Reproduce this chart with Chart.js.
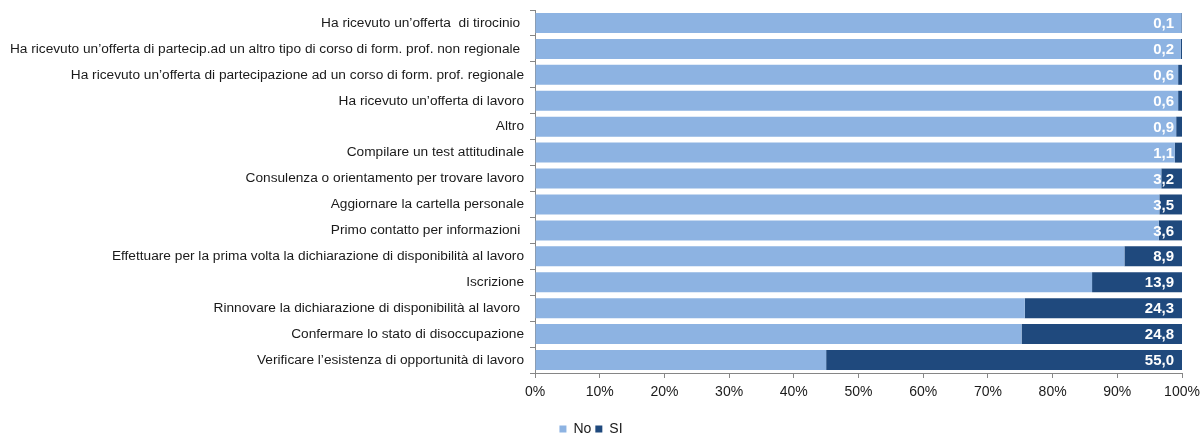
<!DOCTYPE html>
<html>
<head>
<meta charset="utf-8">
<script src="https://cdn.jsdelivr.net/npm/chart.js@4/dist/chart.umd.min.js"></script>
<style>
  html, body { margin: 0; padding: 0; background: #ffffff; }
  #wrap { width: 1200px; height: 434px; position: relative; }
</style>
</head>
<body>
<div id="wrap"><canvas id="c" width="1200" height="434"></canvas></div>
<script>
const categories = [
  "Ha ricevuto un\u2019offerta  di tirocinio ",
  "Ha ricevuto un\u2019offerta di partecip.ad un altro tipo di corso di form. prof. non regionale ",
  "Ha ricevuto un\u2019offerta di partecipazione ad un corso di form. prof. regionale",
  "Ha ricevuto un\u2019offerta di lavoro",
  "Altro",
  "Compilare un test attitudinale",
  "Consulenza o orientamento per trovare lavoro",
  "Aggiornare la cartella personale",
  "Primo contatto per informazioni ",
  "Effettuare per la prima volta la dichiarazione di disponibilit\u00e0 al lavoro",
  "Iscrizione",
  "Rinnovare la dichiarazione di disponibilit\u00e0 al lavoro ",
  "Confermare lo stato di disoccupazione",
  "Verificare l\u2019esistenza di opportunit\u00e0 di lavoro"
];
const siValues = [0.1, 0.2, 0.6, 0.6, 0.9, 1.1, 3.2, 3.5, 3.6, 8.9, 13.9, 24.3, 24.8, 55.0];
const noValues = [99.9, 99.8, 99.4, 99.4, 99.1, 98.9, 96.8, 96.5, 96.4, 91.1, 86.1, 75.7, 75.2, 45.0];
const seriesNames = ["No", "SI"];
const xTicks = [0, 10, 20, 30, 40, 50, 60, 70, 80, 90, 100];

const FONT = "'Liberation Sans Narrow', 'Arial Narrow', 'Liberation Sans', sans-serif";

// Writes the SI share at the right end of each bar
const valueLabels = {
  id: 'valueLabels',
  afterDatasetsDraw(chart) {
    const ctx = chart.ctx;
    const meta = chart.getDatasetMeta(1);
    ctx.save();
    ctx.font = "bold 15px " + FONT;
    ctx.fillStyle = "#ffffff";
    ctx.textAlign = "right";
    ctx.textBaseline = "middle";
    meta.data.forEach((bar, i) => {
      const txt = siValues[i].toFixed(1).replace('.', ',');
      ctx.fillText(txt, bar.x - 8, bar.y + 1);
    });
    ctx.restore();
  }
};

new Chart(document.getElementById('c'), {
  type: 'bar',
  data: {
    labels: categories,
    datasets: [
      { label: seriesNames[0], data: noValues, backgroundColor: '#8db3e2', borderWidth: 0,
        categoryPercentage: 1.0, barPercentage: 0.77 },
      { label: seriesNames[1], data: siValues, backgroundColor: '#1f497d', borderWidth: 0,
        categoryPercentage: 1.0, barPercentage: 0.77 }
    ]
  },
  options: {
    indexAxis: 'y',
    responsive: false,
    animation: false,
    devicePixelRatio: 1,
    layout: { padding: { top: 10, right: 18, left: 0, bottom: -12 } },
    plugins: {
      legend: {
        position: 'bottom',
        labels: {
          font: { family: FONT, size: 14 },
          color: '#1a1a1a',
          boxWidth: 7,
          boxHeight: 7,
          padding: 4
        }
      },
      tooltip: { enabled: false }
    },
    scales: {
      x: {
        stacked: true,
        min: 0,
        max: 100,
        afterBuildTicks(scale) { scale.ticks = xTicks.map(v => ({ value: v })); },
        afterFit(scale) {
          scale.height = 45;
          scale.paddingLeft = 0;
          scale.paddingRight = 0;
        },
        ticks: {
          callback: v => v + '%',
          font: { family: FONT, size: 14 },
          color: '#1a1a1a',
          padding: 6,
          maxRotation: 0
        },
        grid: { drawOnChartArea: false, color: '#868686', tickLength: 5, tickColor: '#868686' },
        border: { color: '#868686', width: 1 }
      },
      y: {
        stacked: true,
        afterFit(scale) {
          scale.width = 535;
          scale.paddingTop = 0;
          scale.paddingBottom = 0;
        },
        ticks: {
          font: { family: FONT, size: 13.7 },
          color: '#1a1a1a',
          padding: 6,
          autoSkip: false
        },
        grid: { drawOnChartArea: false, offset: true, color: '#868686', tickLength: 5, tickColor: '#868686' },
        border: { color: '#868686', width: 1 }
      }
    }
  },
  plugins: [valueLabels]
});
</script>
</body>
</html>
